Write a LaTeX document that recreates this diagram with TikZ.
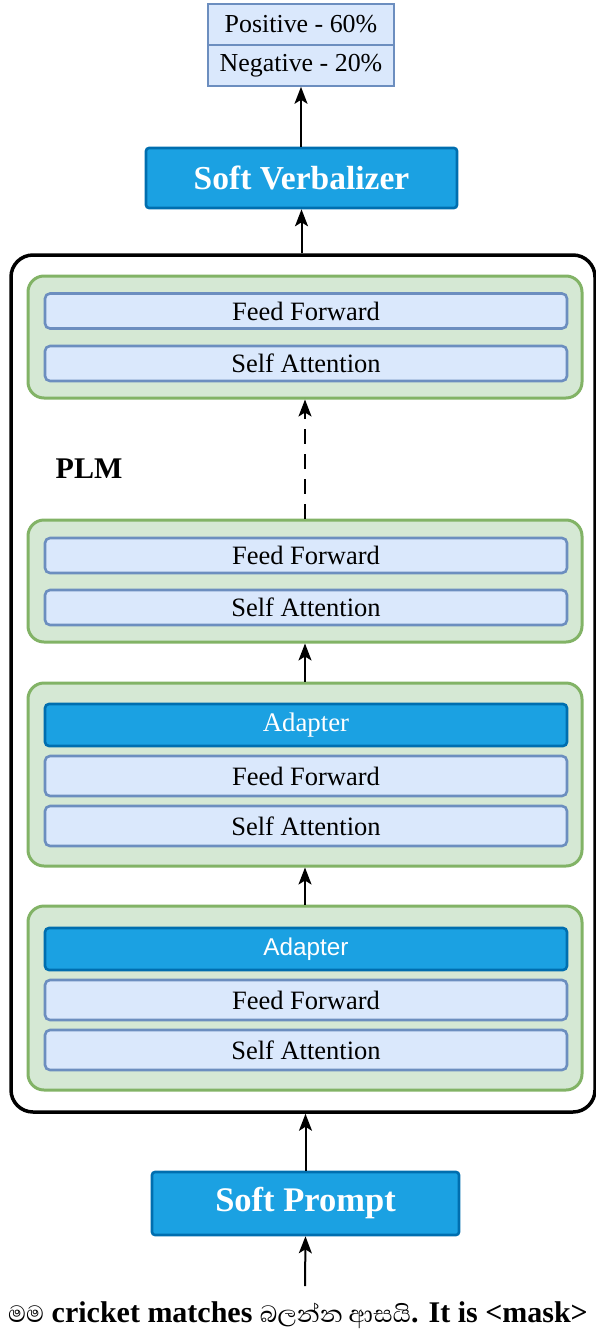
\documentclass[tikz,border=0pt]{standalone}
\usepackage{fontspec}
\setmainfont{Liberation Serif}
\newfontfamily\sanslib{Liberation Sans}
\newfontfamily\sinhalafont[Script=Sinhala,Scale=1.0]{Abhaya Libre}
\usetikzlibrary{arrows.meta}
\definecolor{grnfill}{HTML}{D5E8D4}
\definecolor{grnline}{HTML}{82B366}
\definecolor{bluefill}{HTML}{DAE8FC}
\definecolor{blueline}{HTML}{6C8EBF}
\definecolor{adfill}{HTML}{1BA1E2}
\definecolor{adline}{HTML}{006EAF}
\tikzset{
  layerbox/.style={draw=blueline, fill=bluefill, line width=2.6pt, rounded corners=5pt,
    minimum width=522pt, minimum height=35pt, inner sep=0pt,
    font=\fontsize{26.5}{29}\selectfont, text=black},
  adapterbox/.style={draw=adline, fill=adfill, line width=2.6pt, rounded corners=4pt,
    minimum width=522pt, minimum height=42pt, inner sep=0pt, text=white},
  blockbox/.style={draw=grnline, fill=grnfill, line width=3pt, rounded corners=16pt,
    minimum width=554pt, inner sep=0pt},
  softbox/.style={draw=adline, fill=adfill, line width=2.6pt, rounded corners=3pt,
    inner sep=0pt, text=white},
  outbox/.style={draw=blueline, fill=bluefill, line width=1.6pt,
    minimum width=186pt, minimum height=41pt, inner sep=0pt,
    font=\fontsize{25.9}{28}\selectfont},
  arr/.style={line width=2pt, -{Stealth[length=17pt,width=13pt,inset=4pt]}},
}
\begin{document}
\begin{tikzpicture}[x=1pt,y=-1pt]
\useasboundingbox (0,0) rectangle (596,1330);
% output
\node[outbox] (pos) at (301,24.5) {Positive - 60\%};
\node[outbox] (neg) at (301,65.5) {Negative - 20\%};
% verbalizer
\node[softbox, minimum width=311pt, minimum height=60pt, font=\bfseries\fontsize{33.5}{36}\selectfont] (verb) at (301.5,178) {Soft Verbalizer};
% PLM
\node[draw=black, line width=3.5pt, rounded corners=22pt, minimum width=584pt, minimum height=857pt, inner sep=0pt] (plm) at (303,683.5) {};
\node[font=\bfseries\fontsize{30}{32}\selectfont] (plmlabel) at (89,469) {PLM};
% block 1
\node[blockbox, minimum height=122pt] (b1) at (305,337) {};
\node[layerbox] (ff1) at (306,311) {Feed Forward};
\node[layerbox] (sa1) at (306,363.5) {Self Attention};
% block 2
\node[blockbox, minimum height=122pt] (b2) at (305,581) {};
\node[layerbox] (ff2) at (306,555.5) {Feed Forward};
\node[layerbox] (sa2) at (306,607.5) {Self Attention};
% block 3
\node[blockbox, minimum height=183pt] (b3) at (305,774.5) {};
\node[adapterbox, font=\fontsize{26.8}{29}\selectfont] (ad3) at (306,725) {Adapter};
\node[layerbox, minimum height=40pt] (ff3) at (306,776) {Feed Forward};
\node[layerbox, minimum height=40pt] (sa3) at (306,826) {Self Attention};
% block 4
\node[blockbox, minimum height=184pt] (b4) at (305,998) {};
\node[adapterbox, font=\sanslib\fontsize{24.3}{27}\selectfont] (ad4) at (306,949) {Adapter};
\node[layerbox, minimum height=40pt] (ff4) at (306,1000) {Feed Forward};
\node[layerbox, minimum height=40pt] (sa4) at (306,1050) {Self Attention};
% soft prompt
\node[softbox, minimum width=307pt, minimum height=63pt, font=\bfseries\fontsize{34.5}{37}\selectfont] (sp) at (305.5,1203.5) {Soft Prompt};
% input text
\node[anchor=base, inner sep=0pt, font=\fontsize{30}{33}\selectfont] (inp) at (298,1322)
  {{\sinhalafont මම} \textbf{cricket matches} {\sinhalafont බලන්න ආසයි}\textbf{. It is <mask>}};
\coordinate (inptop) at (305,1286);
% arrows
\draw[arr] (verb.north -| pos.south) -- (neg.south);
\draw[arr] (plm.north -| verb.south) -- (verb.south);
\draw[arr, dash pattern=on 15pt off 10pt] (b2.north) -- (b1.south);
\draw[arr] (b3.north) -- (b2.south);
\draw[arr] (b4.north) -- (b3.south);
\draw[arr] (sp.north) -- (sp.north |- plm.south);
\draw[arr] (inptop) -- (sp.south);
\end{tikzpicture}
\end{document}
